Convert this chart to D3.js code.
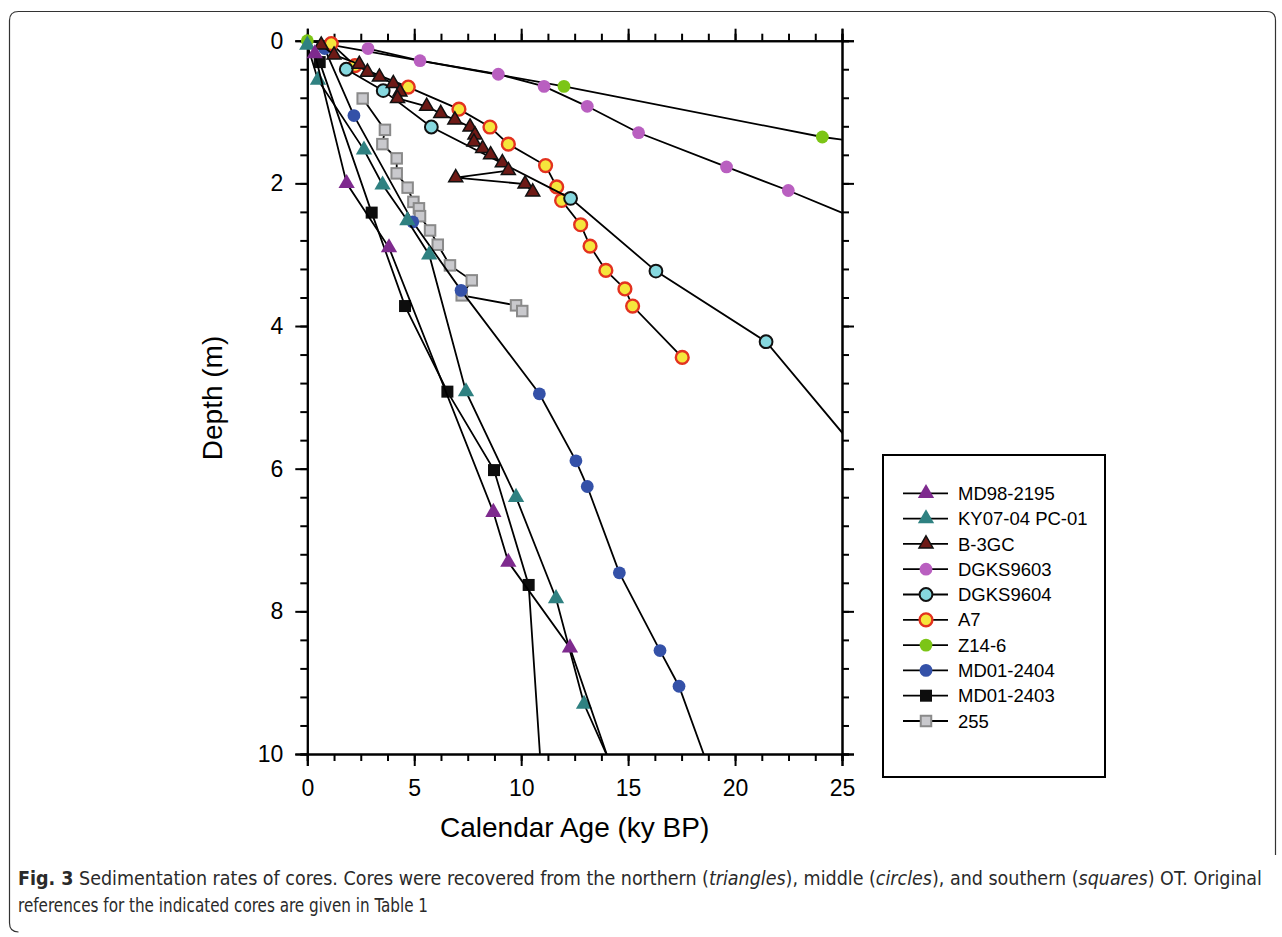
<!DOCTYPE html>
<html><head><meta charset="utf-8">
<script src="https://cdn.jsdelivr.net/npm/d3@7"></script>
<style>
html,body{margin:0;padding:0;background:#fff;}
svg{display:block;}
</style>
</head><body>
<svg id="chart" width="1282" height="937"></svg>
<script>
// ---------------- DATA (age ky BP, depth m) ----------------
const seriesNames = ["MD98-2195","KY07-04 PC-01","B-3GC","DGKS9603","DGKS9604","A7","Z14-6","MD01-2404","MD01-2403","255"];

const md98Age   = [0.35, 1.84, 3.82, 8.70, 9.40, 12.28, 14.8];
const md98Depth = [0.18, 2.00, 2.90, 6.61, 7.31, 8.51, 10.7];

const ky07Age   = [0.00, 0.50, 2.65, 3.52, 4.68, 5.70, 7.42, 9.76, 11.63, 12.94, 14.5];
const ky07Depth = [0.06, 0.55, 1.53, 2.02, 2.52, 3.00, 4.92, 6.40, 7.82, 9.30, 10.35];

const b3gcAge   = [0.65, 1.25, 2.43, 2.81, 3.37, 4.02, 4.33, 4.22, 5.58, 6.24, 6.90, 7.61, 7.84, 7.79, 8.20, 8.57, 9.12, 9.40, 6.94, 10.18, 10.54];
const b3gcDepth = [0.06, 0.20, 0.33, 0.44, 0.51, 0.60, 0.72, 0.81, 0.92, 1.02, 1.11, 1.21, 1.32, 1.42, 1.51, 1.60, 1.71, 1.82, 1.92, 2.01, 2.12];

const dg03Age   = [2.84, 5.27, 8.93, 11.07, 13.09, 15.49, 19.60, 22.49, 27.0];
const dg03Depth = [0.11, 0.28, 0.47, 0.64, 0.92, 1.29, 1.77, 2.10, 2.66];

const dg04Age   = [1.82, 3.55, 5.80, 12.31, 16.30, 21.45, 27.0];
const dg04Depth = [0.40, 0.70, 1.21, 2.21, 3.23, 4.22, 6.21];

const a7Age     = [1.12, 2.23, 4.72, 7.09, 8.54, 9.40, 11.14, 11.66, 11.89, 12.78, 13.22, 13.96, 14.85, 15.21, 17.53];
const a7Depth   = [0.04, 0.35, 0.65, 0.96, 1.21, 1.45, 1.75, 2.05, 2.24, 2.58, 2.88, 3.22, 3.48, 3.72, 4.44];

const z14Age    = [0.00, 12.00, 24.08, 28.0];
const z14Depth  = [0.00, 0.64, 1.35, 1.51];

const md04Age   = [0.81, 2.18, 4.93, 7.19, 10.85, 12.56, 13.09, 14.59, 16.49, 17.38, 19.5];
const md04Depth = [0.11, 1.05, 2.54, 3.50, 4.95, 5.89, 6.25, 7.46, 8.55, 9.05, 10.8];

const md03Age   = [0.58, 3.01, 4.57, 6.55, 8.73, 10.35, 11.1];
const md03Depth = [0.30, 2.41, 3.72, 4.92, 6.02, 7.63, 11.0];

const s255Age   = [2.59, 3.63, 3.51, 4.18, 4.18, 4.69, 4.96, 5.22, 5.27, 5.74, 6.10, 6.67, 7.69, 7.22, 9.76, 10.05];
const s255Depth = [0.81, 1.25, 1.45, 1.65, 1.86, 2.06, 2.26, 2.35, 2.46, 2.66, 2.86, 3.15, 3.36, 3.57, 3.71, 3.79];

const xMajorTicks = [0, 5, 10, 15, 20, 25];
const yMajorTicks = [0, 2, 4, 6, 8, 10];

const xLabel = "Calendar Age (ky BP)";
const yLabel = "Depth (m)";

// ---------------- STYLES ----------------
const styles = [
  {shape:"tri", fill:"#7e2a8e", stroke:"none", sw:0},
  {shape:"tri", fill:"#2f8181", stroke:"none", sw:0},
  {shape:"tri", fill:"#6e1a16", stroke:"#111", sw:1.5},
  {shape:"circ", fill:"#b95fc0", stroke:"none", sw:0},
  {shape:"circ", fill:"#86d8df", stroke:"#111", sw:2},
  {shape:"circ", fill:"#f5e63c", stroke:"#e3321f", sw:2.4},
  {shape:"circ", fill:"#7cc516", stroke:"none", sw:0},
  {shape:"circ", fill:"#3451a8", stroke:"none", sw:0},
  {shape:"sq", fill:"#0d0d0d", stroke:"none", sw:0},
  {shape:"sq", fill:"#c9c9cd", stroke:"#8a8a8a", sw:2}
];

const ages = [md98Age, ky07Age, b3gcAge, dg03Age, dg04Age, a7Age, z14Age, md04Age, md03Age, s255Age];
const depths = [md98Depth, ky07Depth, b3gcDepth, dg03Depth, dg04Depth, a7Depth, z14Depth, md04Depth, md03Depth, s255Depth];

const series = seriesNames.map((n,i)=>({
  name:n, style:styles[i],
  pts: ages[i].map((a,j)=>({age:a, depth:depths[i][j]}))
}));

// ---------------- LAYOUT ----------------
const svg = d3.select("#chart");
const X0 = 307.3, X1 = 842, Y0 = 40.7, Y1 = 754;
const x = d3.scaleLinear().domain([0,25]).range([X0,X1]);
const y = d3.scaleLinear().domain([0,10]).range([Y0,Y1]);

// outer figure frame
const fr = 9;
svg.append("path")
  .attr("d", `M1275.5,855 L1275.5,${11.5+fr} Q1275.5,11.5 ${1275.5-fr},11.5 L${9.5+fr},11.5 Q9.5,11.5 9.5,${11.5+fr} L9.5,${932-fr} Q9.5,932 ${9.5+fr},932`)
  .attr("fill","none").attr("stroke","#333").attr("stroke-width",1.2);

svg.append("defs").append("clipPath").attr("id","plotclip")
  .append("rect").attr("x",X0).attr("y",Y0).attr("width",X1-X0).attr("height",Y1-Y0);

// axes
const fontAx = "'Liberation Sans', Arial, Helvetica, sans-serif";
const xMinor = d3.range(0, 25.001, 1.25);
const yMinor = d3.range(0, 10.001, 0.4);

function styleAxis(g){
  g.select(".domain").attr("stroke","#000").attr("stroke-width",2);
  g.selectAll(".tick line").attr("stroke","#000").attr("stroke-width",2);
}
// minor ticks (all 4 sides)
svg.append("g").attr("transform",`translate(0,${Y1})`)
  .call(d3.axisBottom(x).tickValues(xMinor).tickSize(7).tickFormat(""))
  .call(styleAxis);
svg.append("g").attr("transform",`translate(0,${Y0})`)
  .call(d3.axisTop(x).tickValues(xMinor).tickSize(7).tickFormat(""))
  .call(styleAxis);
svg.append("g").attr("transform",`translate(${X0},0)`)
  .call(d3.axisLeft(y).tickValues(yMinor).tickSize(7).tickFormat(""))
  .call(styleAxis);
svg.append("g").attr("transform",`translate(${X1},0)`)
  .call(d3.axisRight(y).tickValues(yMinor).tickSize(7).tickFormat(""))
  .call(styleAxis);
// major ticks
const gxb = svg.append("g").attr("transform",`translate(0,${Y1})`)
  .call(d3.axisBottom(x).tickValues(xMajorTicks).tickSize(12).tickPadding(14).tickFormat(d3.format("d")))
  .call(styleAxis);
svg.append("g").attr("transform",`translate(0,${Y0})`)
  .call(d3.axisTop(x).tickValues(xMajorTicks).tickSize(12).tickFormat(""))
  .call(styleAxis);
const gyl = svg.append("g").attr("transform",`translate(${X0},0)`)
  .call(d3.axisLeft(y).tickValues(yMajorTicks).tickSize(12).tickPadding(12).tickFormat(d3.format("d")))
  .call(styleAxis);
svg.append("g").attr("transform",`translate(${X1},0)`)
  .call(d3.axisRight(y).tickValues(yMajorTicks).tickSize(12).tickFormat(""))
  .call(styleAxis);
[gxb, gyl].forEach(g=>g.selectAll(".tick text").attr("font-family",fontAx).attr("font-size",23).attr("fill","#000"));

// axis titles
svg.append("text").attr("x",(X0+X1)/2).attr("y",837).attr("text-anchor","middle")
  .attr("font-family",fontAx).attr("font-size",28).attr("fill","#000").text(xLabel);
svg.append("text").attr("transform",`translate(222,398) rotate(-90)`).attr("text-anchor","middle")
  .attr("font-family",fontAx).attr("font-size",28).attr("fill","#000").text(yLabel);

// ---------------- MARKS ----------------
const line = d3.line().x(d=>x(d.age)).y(d=>y(d.depth));
function drawMarker(g, st, cx, cy){
  if(st.shape==="circ"){
    g.append("circle").attr("cx",cx).attr("cy",cy).attr("r",6.4)
      .attr("fill",st.fill).attr("stroke",st.stroke).attr("stroke-width",st.sw);
  } else if(st.shape==="sq"){
    const s = st.sw>0 ? 10.5 : 12;
    g.append("rect").attr("x",cx-s/2).attr("y",cy-s/2).attr("width",s).attr("height",s)
      .attr("fill",st.fill).attr("stroke",st.stroke).attr("stroke-width",st.sw);
  } else {
    g.append("path").attr("transform",`translate(${cx},${cy})`)
      .attr("d", d3.symbol(d3.symbolTriangle, st.sw>0 ? 85 : 115)())
      .attr("fill",st.fill).attr("stroke",st.stroke).attr("stroke-width",st.sw).attr("stroke-linejoin","miter");
  }
}

const plotG = svg.append("g");
series.slice().reverse().forEach(s=>{
  const g = plotG.append("g");
  g.append("path").datum(s.pts).attr("d",line).attr("fill","none")
    .attr("stroke","#000").attr("stroke-width",1.8).attr("clip-path","url(#plotclip)");
  s.pts.filter(p=>p.age<=25 && p.depth<=10).forEach(p=>drawMarker(g, s.style, x(p.age), y(p.depth)));
});

// ---------------- LEGEND ----------------
const LX = 883, LY = 455, LW = 222, LH = 322;
svg.append("rect").attr("x",LX).attr("y",LY).attr("width",LW).attr("height",LH)
  .attr("fill","#fff").attr("stroke","#000").attr("stroke-width",2);
series.forEach((s,i)=>{
  const ry = 493.3 + i*25.3;
  const g = svg.append("g");
  g.append("line").attr("x1",903).attr("x2",948).attr("y1",ry).attr("y2",ry)
    .attr("stroke","#000").attr("stroke-width",1.8);
  drawMarker(g, s.style, 926, ry);
  g.append("text").attr("x",958).attr("y",ry).attr("dy","0.36em")
    .attr("font-family",fontAx).attr("font-size",18.5).attr("fill","#000").text(s.name);
});

// ---------------- CAPTION ----------------
const capFont = "'Liberation Sans Narrow', 'DejaVu Sans Condensed', 'Open Sans', sans-serif";
const c1 = svg.append("text").attr("x",18).attr("y",885).attr("font-family",capFont).attr("font-size",19)
  .attr("fill","#2a2a2a").attr("textLength",1244).attr("lengthAdjust","spacingAndGlyphs");
c1.append("tspan").attr("font-weight","bold").text("Fig. 3");
c1.append("tspan").text(" Sedimentation rates of cores. Cores were recovered from the northern (");
c1.append("tspan").attr("font-style","italic").text("triangles");
c1.append("tspan").text("), middle (");
c1.append("tspan").attr("font-style","italic").text("circles");
c1.append("tspan").text("), and southern (");
c1.append("tspan").attr("font-style","italic").text("squares");
c1.append("tspan").text(") OT. Original");
svg.append("text").attr("x",18).attr("y",912).attr("font-family",capFont).attr("font-size",19)
  .attr("fill","#2a2a2a").attr("textLength",410).attr("lengthAdjust","spacingAndGlyphs")
  .text("references for the indicated cores are given in Table 1");
</script>
</body></html>
